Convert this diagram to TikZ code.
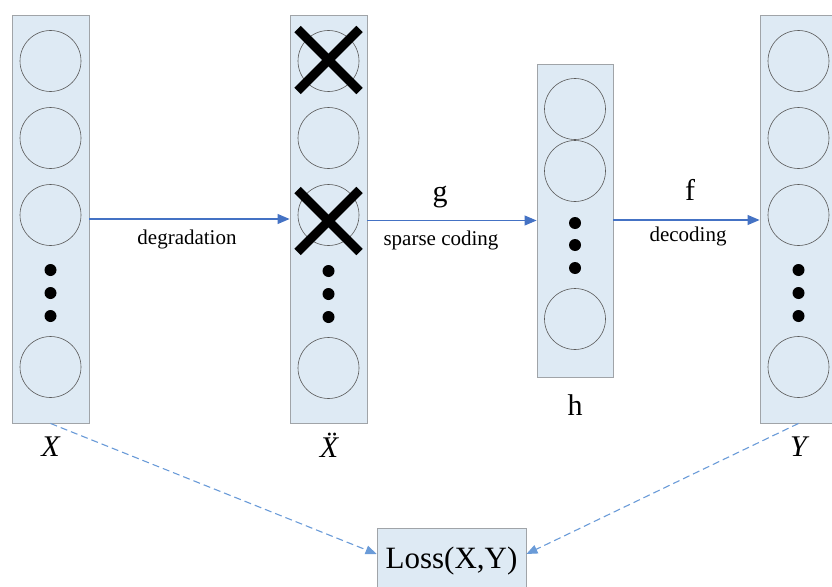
\documentclass[tikz,border=0pt]{standalone}
\usepackage{fontspec}
\setmainfont{Liberation Serif}
\usetikzlibrary{arrows.meta}
\definecolor{colfill}{HTML}{DEEAF4}
\definecolor{colborder}{HTML}{A0A4A8}
\definecolor{circgray}{HTML}{5A5A5A}
\definecolor{arrowblue}{HTML}{4472C4}
\definecolor{dashblue}{HTML}{6A9BD8}
\begin{document}
\begin{tikzpicture}[x=1pt,y=-1pt,
  col/.style={draw=colborder, fill=colfill, line width=0.9pt, minimum width=77pt, inner sep=0},
  neuron/.style={circle, draw=circgray, line width=0.6pt, minimum size=61pt, inner sep=0},
  dotn/.style={circle, fill=black, minimum size=12pt, inner sep=0},
  flow/.style={draw=arrowblue, line width=1.1pt, -{Triangle[length=12pt,width=10pt]}},
  lossline/.style={draw=dashblue, line width=1.1pt, dash pattern=on 7pt off 4pt, -{Triangle[length=11pt,width=9pt]}},
  lbl/.style={font=\fontsize{21}{23}\selectfont, inner sep=0},
  big/.style={font=\fontsize{30}{32}\selectfont, inner sep=0},
  cross/.style={line width=9pt, black}
]
\useasboundingbox (0,0) rectangle (832,586);
% columns
\node[col, minimum height=408pt] (colX) at (50.5,219) {};
\node[col, minimum height=408pt] (colXd) at (328.5,219) {};
\node[col, minimum height=313pt, minimum width=76pt] (colH) at (575,220.5) {};
\node[col, minimum height=408pt] (colY) at (798.5,219) {};
% X column
\foreach \y/\n in {61/a,138/b,215/c,367/d} \node[neuron] (x\n) at (50.5,\y) {};
\foreach \y/\n in {270/a,293/b,316/c} \node[dotn] (xdot\n) at (50.5,\y) {};
% Xdd column
\foreach \y/\n in {61/a,138/b,215/c,368/d} \node[neuron] (xd\n) at (328.5,\y) {};
\foreach \y/\n in {271/a,294/b,317/c} \node[dotn] (xddot\n) at (328.5,\y) {};
\draw[cross] (xda.center) ++(-31,-32) -- ++(62,62);
\draw[cross] (xda.center) ++(31,-32) -- ++(-62,62);
\draw[cross] (xdc.center) ++(-31,-25) -- ++(62,62);
\draw[cross] (xdc.center) ++(31,-25) -- ++(-62,62);
% h column
\foreach \y/\n in {109/a,171/b,319/d} \node[neuron] (h\n) at (575,\y) {};
\foreach \y/\n in {223/a,245/b,268/c} \node[dotn] (hdot\n) at (575,\y) {};
% Y column
\foreach \y/\n in {61/a,138/b,215/c,367/d} \node[neuron] (y\n) at (798.5,\y) {};
\foreach \y/\n in {270/a,293/b,316/c} \node[dotn] (ydot\n) at (798.5,\y) {};
% loss
\node[col, minimum width=149pt, minimum height=62pt] (loss) at (451.5,559) {};
\node[font=\fontsize{31}{33}\selectfont, inner sep=0] (losst) at (451.5,561) {Loss(X,Y)};
% arrows
\draw[flow] (colX.east) -- (colXd.west);
\draw[flow] (colXd.east |- colH.west) -- (colH.west);
\draw[flow] ([yshift=0.5pt]colH.east) -- ([yshift=0.5pt]colH.east -| colY.west);
\draw[lossline] (colX.south) -- ([yshift=5pt]loss.west);
\draw[lossline] (colY.south) -- ([yshift=5pt]loss.east);
% labels
\node[lbl] (ldeg) at (187,239) {degradation};
\node[big] (lg) at (440,197) {g};
\node[lbl] (lsc) at (441,240) {sparse coding};
\node[big] (lf) at (690,190) {f};
\node[lbl] (ldec) at (688,236) {decoding};
\node[big] (lX) at (50.5,447) {\itshape X};
\node[big] (lXd) at (329,445) {\itshape\"X};
\node[big] (lh) at (575,405) {h};
\node[big] (lY) at (798.5,447) {\itshape Y};
\end{tikzpicture}
\end{document}
